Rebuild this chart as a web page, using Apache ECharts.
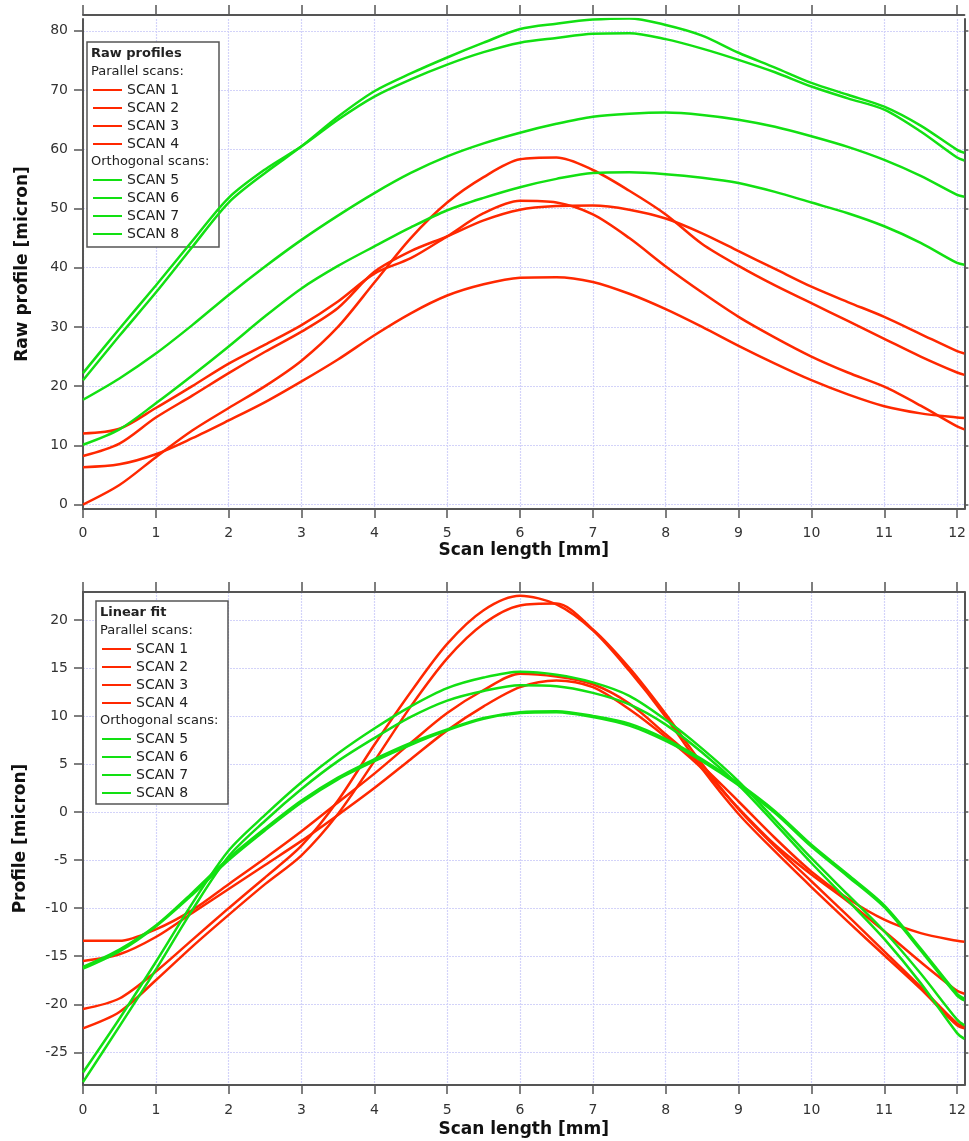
<!DOCTYPE html>
<html>
<head>
<meta charset="utf-8">
<title>Scan profiles</title>
<script src="https://cdn.jsdelivr.net/npm/echarts@6/dist/echarts.min.js"></script>
<style>
  html, body { margin: 0; padding: 0; background: #fff; }
  #main { width: 969px; height: 1141px; }
</style>
</head>
<body>
<div id="main"></div>
<script>
// scan position along the sample (mm)
var scanX = [0, 0.5, 1, 1.5, 2, 2.5, 3, 3.5, 4, 4.5, 5, 5.5, 6, 6.5, 7, 7.5, 8, 8.5, 9, 9.5, 10, 10.5, 11, 11.5, 12, 12.1];

var scanNames = ['SCAN 1', 'SCAN 2', 'SCAN 3', 'SCAN 4', 'SCAN 5', 'SCAN 6', 'SCAN 7', 'SCAN 8'];

// tick labels
var mmTicks = [0, 1, 2, 3, 4, 5, 6, 7, 8, 9, 10, 11, 12];
var rawTicks = [0, 10, 20, 30, 40, 50, 60, 70, 80];
var fitTicks = [-25, -20, -15, -10, -5, 0, 5, 10, 15, 20];

// raw profiles (micron)
var rawScan1 = [0, 3.3, 8, 12.5, 16.3, 20, 24.3, 30, 37.5, 45, 51, 55.3, 58.3, 58.6, 56.5, 53, 49, 44, 40.3, 37, 34, 31, 28, 25, 22.3, 21.9];
var rawScan2 = [12.0, 12.8, 16.3, 20, 23.8, 27, 30.3, 34.3, 39.0, 41.6, 45.3, 49.2, 51.3, 51.0, 49.0, 45, 40.2, 35.8, 31.7, 28.2, 25, 22.3, 19.9, 16.7, 13.2, 12.7];
var rawScan3 = [8.2, 10.3, 14.7, 18.4, 22.2, 25.8, 29.2, 33.2, 39.3, 42.8, 45.3, 48.0, 49.8, 50.4, 50.5, 49.8, 48.3, 45.8, 42.8, 39.8, 36.8, 34.2, 31.7, 28.8, 25.9, 25.5];
var rawScan4 = [6.3, 6.8, 8.5, 11.2, 14.2, 17.3, 20.8, 24.5, 28.6, 32.3, 35.3, 37.2, 38.3, 38.4, 37.6, 35.6, 33, 30, 26.8, 23.8, 21, 18.6, 16.6, 15.4, 14.7, 14.6];
var rawScan5 = [21.0, 28.5, 35.8, 43.5, 51.0, 56.0, 60.5, 65.5, 69.8, 72.8, 75.5, 78.0, 80.3, 81.2, 81.9, 82.1, 81.0, 79.2, 76.3, 73.8, 71.2, 69.2, 67.2, 64.0, 59.9, 59.4];
var rawScan6 = [22.2, 29.7, 37.0, 44.5, 51.8, 56.6, 60.5, 65.0, 68.9, 71.8, 74.3, 76.4, 78.0, 78.8, 79.5, 79.6, 78.6, 77.0, 75.1, 73.0, 70.6, 68.6, 66.7, 63.0, 58.6, 58.1];
var rawScan7 = [17.7, 21.3, 25.5, 30.3, 35.4, 40.2, 44.7, 48.8, 52.6, 56.0, 58.8, 61.0, 62.8, 64.3, 65.5, 66.0, 66.2, 65.8, 65.0, 63.8, 62.2, 60.4, 58.2, 55.5, 52.3, 52.0];
var rawScan8 = [10.1, 12.7, 17.1, 21.8, 26.7, 31.8, 36.5, 40.3, 43.6, 46.8, 49.7, 51.8, 53.6, 55.0, 56.0, 56.1, 55.8, 55.2, 54.3, 52.8, 51.0, 49.2, 47.0, 44.2, 40.8, 40.5];

// profiles after linear fit removal (micron)
var fitScan1 = [-22.5, -20.8, -17.5, -14.0, -10.7, -7.5, -4.5, -0.2, 5.3, 11.0, 16.0, 19.6, 21.5, 21.7, 19.0, 15.0, 10.2, 5.0, 0.3, -3.6, -7.2, -10.8, -14.5, -18.2, -22.0, -22.3];
var fitScan2 = [-20.5, -19.4, -16.6, -13.3, -10.0, -6.8, -3.5, 1.2, 7.0, 12.5, 17.5, 21.0, 22.5, 21.6, 18.9, 14.7, 9.9, 4.5, -0.2, -4.1, -7.8, -11.4, -14.9, -18.4, -22.2, -22.5];
var fitScan3 = [-15.5, -14.8, -13.0, -10.5, -8.0, -5.5, -3.0, -0.3, 2.5, 5.5, 8.5, 11.0, 13.0, 13.7, 13.0, 10.7, 7.8, 4.5, 0.4, -3.4, -6.5, -9.3, -12.4, -15.6, -18.6, -18.9];
var fitScan4 = [-13.4, -13.4, -12.2, -10.2, -7.5, -4.8, -2.0, 1.0, 4.0, 7.2, 10.3, 12.7, 14.4, 14.1, 13.3, 11.3, 8.1, 4.8, 1.1, -2.7, -6.2, -9.0, -11.2, -12.6, -13.4, -13.5];
var fitScan5 = [-27.1, -21.5, -15.6, -9.5, -4.0, -0.3, 3.1, 6.1, 8.7, 11.0, 12.9, 14.0, 14.6, 14.3, 13.5, 12.1, 9.6, 6.6, 3.2, -0.8, -4.8, -8.6, -12.4, -16.8, -21.6, -22.2];
var fitScan6 = [-28.1, -22.3, -16.4, -10.2, -4.6, -0.9, 2.4, 5.3, 7.7, 9.9, 11.6, 12.6, 13.2, 13.1, 12.4, 11.2, 9.1, 6.2, 2.8, -1.2, -5.3, -9.2, -13.2, -17.8, -23.0, -23.6];
var fitScan7 = [-16.1, -14.3, -11.8, -8.4, -4.8, -1.7, 1.2, 3.6, 5.5, 7.2, 8.6, 9.8, 10.4, 10.5, 10.0, 9.2, 7.6, 5.5, 3.0, 0.1, -3.4, -6.5, -9.7, -14.2, -18.9, -19.4];
var fitScan8 = [-16.3, -14.5, -11.9, -8.6, -5.0, -1.9, 1.0, 3.4, 5.3, 7.0, 8.5, 9.7, 10.3, 10.4, 9.9, 9.0, 7.4, 5.3, 2.8, -0.1, -3.6, -6.7, -9.9, -14.4, -19.1, -19.6];

var RED = '#ff2800';
var GREEN = '#12e012';
var scanColors = [RED, RED, RED, RED, GREEN, GREEN, GREEN, GREEN];

var axisGray = '#555';
var fontName = 'DejaVu Sans';
var gridLine = { show: true, lineStyle: { color: '#d3d3f9', width: 1.2, type: [2, 1] } };
var titleStyle = { color: '#111', fontSize: 17, fontWeight: 'bold', fontFamily: fontName };

var chart = echarts.init(document.getElementById('main'), null, { renderer: 'canvas' });

function toPairs(ys) {
  var out = [];
  for (var i = 0; i < scanX.length; i++) {
    out.push([scanX[i], ys[i]]);
  }
  return out;
}

function makeSeries(list, axisIndex) {
  return list.map(function (ys, i) {
    return {
      name: scanNames[i],
      type: 'line',
      xAxisIndex: axisIndex,
      yAxisIndex: axisIndex,
      data: toPairs(ys),
      smooth: 0.3,
      showSymbol: false,
      animation: false,
      itemStyle: { color: scanColors[i] },
      lineStyle: { color: scanColors[i], width: 2.5 }
    };
  });
}

/**
 * bottom x axis with labels
 */
function mainX(gridIndex, nameGap, labelMargin) {
  return {
    type: 'value', gridIndex: gridIndex, position: 'bottom',
    min: 0, max: 12.1, interval: 1,
    name: 'Scan length [mm]', nameLocation: 'middle', nameGap: nameGap,
    nameTextStyle: titleStyle,
    axisLine: { onZero: false, lineStyle: { color: axisGray, width: 2 } },
    axisTick: { length: 9, customValues: mmTicks, lineStyle: { color: axisGray, width: 1.5 } },
    axisLabel: { margin: labelMargin, customValues: mmTicks, color: '#333', fontSize: 14, fontFamily: fontName },
    splitLine: gridLine
  };
}

/**
 * top mirror axis, ticks only
 */
function mirrorX(gridIndex, offset) {
  return {
    type: 'value', gridIndex: gridIndex, position: 'top', offset: offset,
    min: 0, max: 12.1, interval: 1,
    axisLine: { onZero: false, lineStyle: { color: axisGray, width: 2 } },
    axisTick: { length: 10, customValues: mmTicks, lineStyle: { color: axisGray, width: 1.5 } },
    axisLabel: { show: false },
    splitLine: { show: false }
  };
}

function mainY(gridIndex, name, min, max, split, ticks, nameGap) {
  return {
    type: 'value', gridIndex: gridIndex, position: 'left',
    min: min, max: max, splitNumber: split,
    name: name, nameLocation: 'middle', nameGap: nameGap, nameRotate: 90,
    nameTextStyle: titleStyle,
    axisLine: { onZero: false, lineStyle: { color: axisGray, width: 2 } },
    axisTick: { length: 9, customValues: ticks, lineStyle: { color: axisGray, width: 1.5 } },
    axisLabel: { margin: 15, customValues: ticks, color: '#333', fontSize: 14, fontFamily: fontName },
    splitLine: gridLine
  };
}

function mirrorY(gridIndex, min, max, split, ticks) {
  return {
    type: 'value', gridIndex: gridIndex, position: 'right',
    min: min, max: max, splitNumber: split,
    axisLine: { onZero: false, lineStyle: { color: axisGray, width: 2 } },
    axisTick: { length: 4, customValues: ticks, lineStyle: { color: axisGray, width: 1.5 } },
    axisLabel: { show: false },
    splitLine: { show: false }
  };
}

function makeLegend(names, left, top) {
  return {
    data: names, orient: 'vertical', left: left, top: top,
    padding: 0, itemGap: 0, itemWidth: 29, itemHeight: 2,
    icon: 'rect', selectedMode: false,
    textStyle: { fontSize: 14, fontFamily: fontName, color: '#222', lineHeight: 18 }
  };
}

function legendText(text, x, y, bold) {
  return {
    type: 'text', z: 5, x: x, y: y,
    style: {
      text: text, fill: '#222', fontSize: 13, fontFamily: fontName,
      fontWeight: bold ? 'bold' : 'normal', verticalAlign: 'middle'
    }
  };
}

function legendBox(x, y, w, h) {
  return {
    type: 'rect', z: 3,
    shape: { x: x, y: y, width: w, height: h },
    style: { fill: '#fff', stroke: '#555', lineWidth: 1.5 }
  };
}

var option = {
  backgroundColor: '#fff',
  animation: false,
  grid: [
    { left: 83, right: 4, top: 19, height: 490 },
    { left: 83, right: 4, top: 592, height: 493 }
  ],
  xAxis: [
    mainX(0, 33, 17),
    mirrorX(0, 4),
    mainX(1, 36, 18),
    mirrorX(1, 0)
  ],
  yAxis: [
    mainY(0, 'Raw profile [micron]', -0.75, 82, 8, rawTicks, 52),
    mirrorY(0, -0.75, 82, 8, rawTicks),
    mainY(1, 'Profile [micron]', -28.4, 22.9, 10, fitTicks, 54),
    mirrorY(1, -28.4, 22.9, 10, fitTicks)
  ],
  legend: [
    makeLegend(scanNames.slice(0, 4), 93, 81),
    makeLegend(scanNames.slice(4), 93, 171),
    makeLegend(scanNames.slice(0, 4), 102, 640),
    makeLegend(scanNames.slice(4), 102, 730)
  ],
  graphic: [
    legendBox(87, 42, 132, 205),
    legendText('Raw profiles', 91, 54, true),
    legendText('Parallel scans:', 91, 72, false),
    legendText('Orthogonal scans:', 91, 162, false),
    legendBox(96, 601, 132, 203),
    legendText('Linear fit', 100, 613, true),
    legendText('Parallel scans:', 100, 631, false),
    legendText('Orthogonal scans:', 100, 721, false)
  ],
  series: makeSeries([rawScan1, rawScan2, rawScan3, rawScan4, rawScan5, rawScan6, rawScan7, rawScan8], 0)
    .concat(makeSeries([fitScan1, fitScan2, fitScan3, fitScan4, fitScan5, fitScan6, fitScan7, fitScan8], 2))
};

chart.setOption(option);
</script>
</body>
</html>
